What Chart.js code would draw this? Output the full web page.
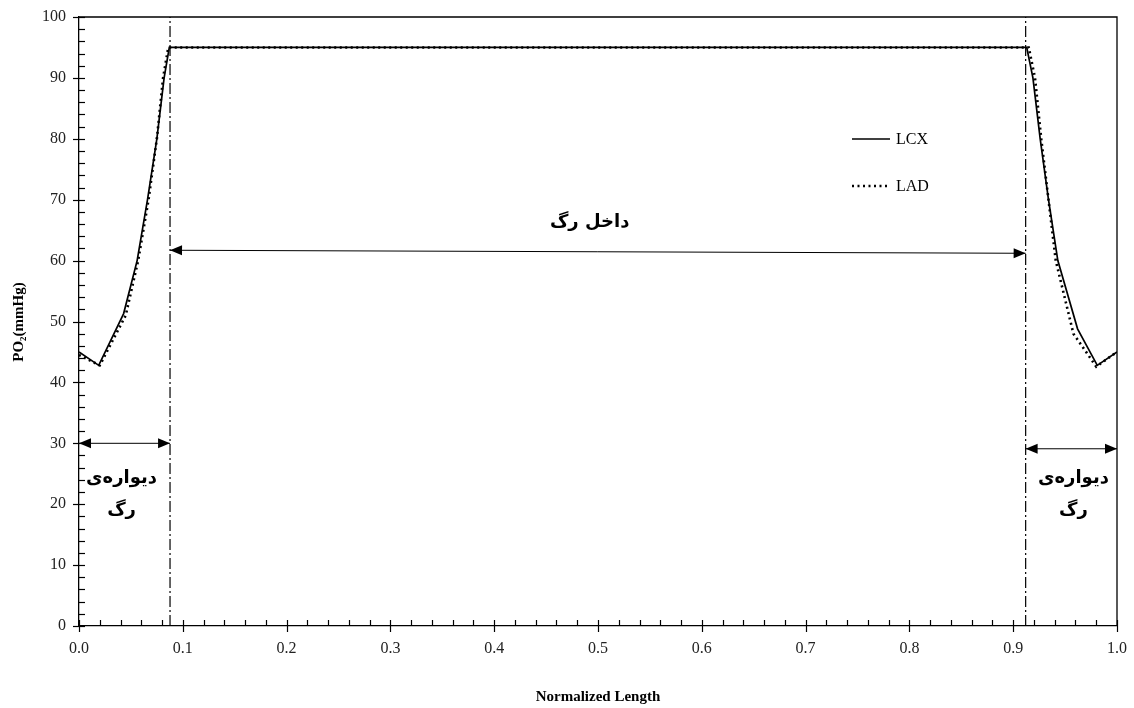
<!DOCTYPE html>
<html lang="fa">
<head>
    <meta charset="UTF-8">
    <title>PO2 - Normalized Length</title>
    <script src="https://cdn.jsdelivr.net/npm/chart.js"></script>
    <style>
        body { margin: 0; background: #ffffff; }
        #wrap { width: 1134px; height: 708px; position: relative; }
    </style>
</head>
<body>
<div id="wrap"><canvas id="chart"></canvas></div>
<script>
// données
const lcxX = [0.0, 0.019, 0.043, 0.056, 0.066, 0.075, 0.082, 0.087, 0.913, 0.919, 0.926, 0.934, 0.943, 0.962, 0.981, 1.0];
const lcxY = [45.0, 42.8, 51.3, 60, 70, 80, 90, 95, 95, 90, 80, 70, 60, 48.8, 42.8, 45.0];
const ladX = [0.0, 0.02, 0.045, 0.057, 0.067, 0.075, 0.081, 0.086, 0.915, 0.921, 0.927, 0.934, 0.941, 0.958, 0.98, 1.0];
const ladY = [44.5, 42.8, 51.0, 60, 70, 80, 90, 95, 95, 90, 80, 70, 60, 48.0, 42.6, 45.0];

// limites de la paroi (traits mixtes)
const wallX = [0.0877, 0.912];

// flèches : début, fin, hauteur
const arrowX1 = [0.0877, 0.0, 0.912];
const arrowX2 = [0.912, 0.0877, 1.0];
const arrowY1 = [61.7, 30.0, 29.1];
const arrowY2 = [61.2, 30.0, 29.1];

// étiquettes
const noteText = ['داخل رگ', 'دیواره‌ی', 'رگ', 'دیواره‌ی', 'رگ'];
const noteX = [0.492, 0.041, 0.041, 0.958, 0.958];
const noteY = [66.3, 24.3, 19.0, 24.3, 19.0];

const xTitle = 'Normalized Length';
const yTitle = 'PO\u2082(mmHg)';

function pts(xs, ys) {
    return xs.map((x, i) => ({ x: x, y: ys[i] }));
}

const wallSets = wallX.map(x => ({
    label: 'wall',
    data: [{ x: x, y: 0 }, { x: x, y: 100 }],
    borderColor: '#000',
    borderWidth: 1.2,
    borderDash: [11, 3, 2, 3],
    pointRadius: 0,
    showLine: true
}));

// dessin des cadres, graduations, flèches et textes
const decorPlugin = {
    id: 'decor',
    afterDatasetsDraw(chart) {
        const ctx = chart.ctx;
        const xs = chart.scales.x, ys = chart.scales.y;
        const a = chart.chartArea;
        ctx.save();
        ctx.strokeStyle = '#000';
        ctx.fillStyle = '#000';
        ctx.lineWidth = 1.3;
        // cadre haut et droit
        ctx.beginPath();
        ctx.moveTo(a.left, a.top); ctx.lineTo(a.right, a.top); ctx.lineTo(a.right, a.bottom);
        ctx.stroke();

        // graduations axe y
        ctx.lineWidth = 1.2;
        for (let v = 0; v <= 100; v += 2) {
            const y = Math.round(ys.getPixelForValue(v)) + 0.5;
            const major = v % 10 === 0;
            ctx.beginPath();
            ctx.moveTo(a.left - (major ? 6 : 0), y);
            ctx.lineTo(a.left + 6, y);
            ctx.stroke();
        }
        // graduations axe x
        for (let i = 0; i <= 50; i++) {
            const x = Math.round(xs.getPixelForValue(i / 50)) + 0.5;
            const major = i % 5 === 0;
            ctx.beginPath();
            ctx.moveTo(x, a.bottom + (major ? 6 : 0));
            ctx.lineTo(x, a.bottom - 6);
            ctx.stroke();
        }

        // flèches
        ctx.lineWidth = 1;
        for (let i = 0; i < arrowX1.length; i++) {
            const x1 = xs.getPixelForValue(arrowX1[i]), y1 = ys.getPixelForValue(arrowY1[i]);
            const x2 = xs.getPixelForValue(arrowX2[i]), y2 = ys.getPixelForValue(arrowY2[i]);
            ctx.beginPath(); ctx.moveTo(x1, y1); ctx.lineTo(x2, y2); ctx.stroke();
            const ang = Math.atan2(y2 - y1, x2 - x1);
            [[x1, y1, ang + Math.PI], [x2, y2, ang]].forEach(([px, py, t]) => {
                ctx.beginPath();
                ctx.moveTo(px, py);
                ctx.lineTo(px - 12 * Math.cos(t) + 5 * Math.sin(t), py - 12 * Math.sin(t) - 5 * Math.cos(t));
                ctx.lineTo(px - 12 * Math.cos(t) - 5 * Math.sin(t), py - 12 * Math.sin(t) + 5 * Math.cos(t));
                ctx.closePath(); ctx.fill();
            });
        }

        // textes en persan
        ctx.font = 'bold 18px "DejaVu Sans"';
        ctx.textAlign = 'center';
        ctx.textBaseline = 'middle';
        ctx.direction = 'rtl';
        for (let i = 0; i < noteText.length; i++) {
            ctx.fillText(noteText[i], xs.getPixelForValue(noteX[i]), ys.getPixelForValue(noteY[i]));
        }
        ctx.direction = 'ltr';

        // légende
        ctx.lineWidth = 1.5;
        ctx.beginPath(); ctx.moveTo(852, 139); ctx.lineTo(890, 139); ctx.stroke();
        ctx.lineWidth = 2.5;
        ctx.setLineDash([2, 3.5]);
        ctx.beginPath(); ctx.moveTo(852, 186); ctx.lineTo(890, 186); ctx.stroke();
        ctx.setLineDash([]);
        ctx.font = '16px "Liberation Serif"';
        ctx.textAlign = 'left';
        ctx.fillText('LCX', 896, 140);
        ctx.fillText('LAD', 896, 187);

        // titres des axes
        ctx.font = 'bold 15px "Liberation Serif"';
        ctx.textAlign = 'center';
        ctx.fillText(xTitle, (a.left + a.right) / 2, 697);
        ctx.translate(19, 322);
        ctx.rotate(-Math.PI / 2);
        ctx.fillText(yTitle, 0, 0);
        ctx.restore();
    }
};

const ctx = document.getElementById('chart').getContext('2d');
new Chart(ctx, {
    type: 'scatter',
    data: {
        datasets: [
            {
                label: 'LCX',
                data: pts(lcxX, lcxY),
                borderColor: '#000',
                borderWidth: 1.7,
                pointRadius: 0,
                showLine: true
            },
            {
                label: 'LAD',
                data: pts(ladX, ladY),
                borderColor: '#000',
                borderWidth: 2.6,
                borderDash: [2, 3.5],
                pointRadius: 0,
                showLine: true
            },
            ...wallSets
        ]
    },
    options: {
        responsive: true,
        maintainAspectRatio: false,
        animation: false,
        layout: { padding: { left: 0, right: 17, top: 17, bottom: 0 } },
        plugins: { legend: { display: false }, tooltip: { enabled: false } },
        scales: {
            x: {
                type: 'linear',
                min: 0, max: 1,
                grid: { display: false, drawTicks: false },
                border: { display: true, color: '#000', width: 1.3 },
                ticks: {
                    stepSize: 0.1,
                    padding: 13,
                    color: '#222',
                    font: { family: 'Liberation Serif', size: 16 },
                    callback: v => Number(v).toFixed(1)
                },
                afterFit: s => { s.height = 82; s.paddingLeft = 0; s.paddingRight = 0; }
            },
            y: {
                min: 0, max: 100,
                grid: { display: false, drawTicks: false },
                border: { display: true, color: '#000', width: 1.3 },
                ticks: {
                    stepSize: 10,
                    padding: 13,
                    color: '#222',
                    font: { family: 'Liberation Serif', size: 16 }
                },
                afterFit: s => { s.width = 79; s.paddingTop = 0; s.paddingBottom = 0; }
            }
        }
    },
    plugins: [decorPlugin]
});
</script>
</body>
</html>
